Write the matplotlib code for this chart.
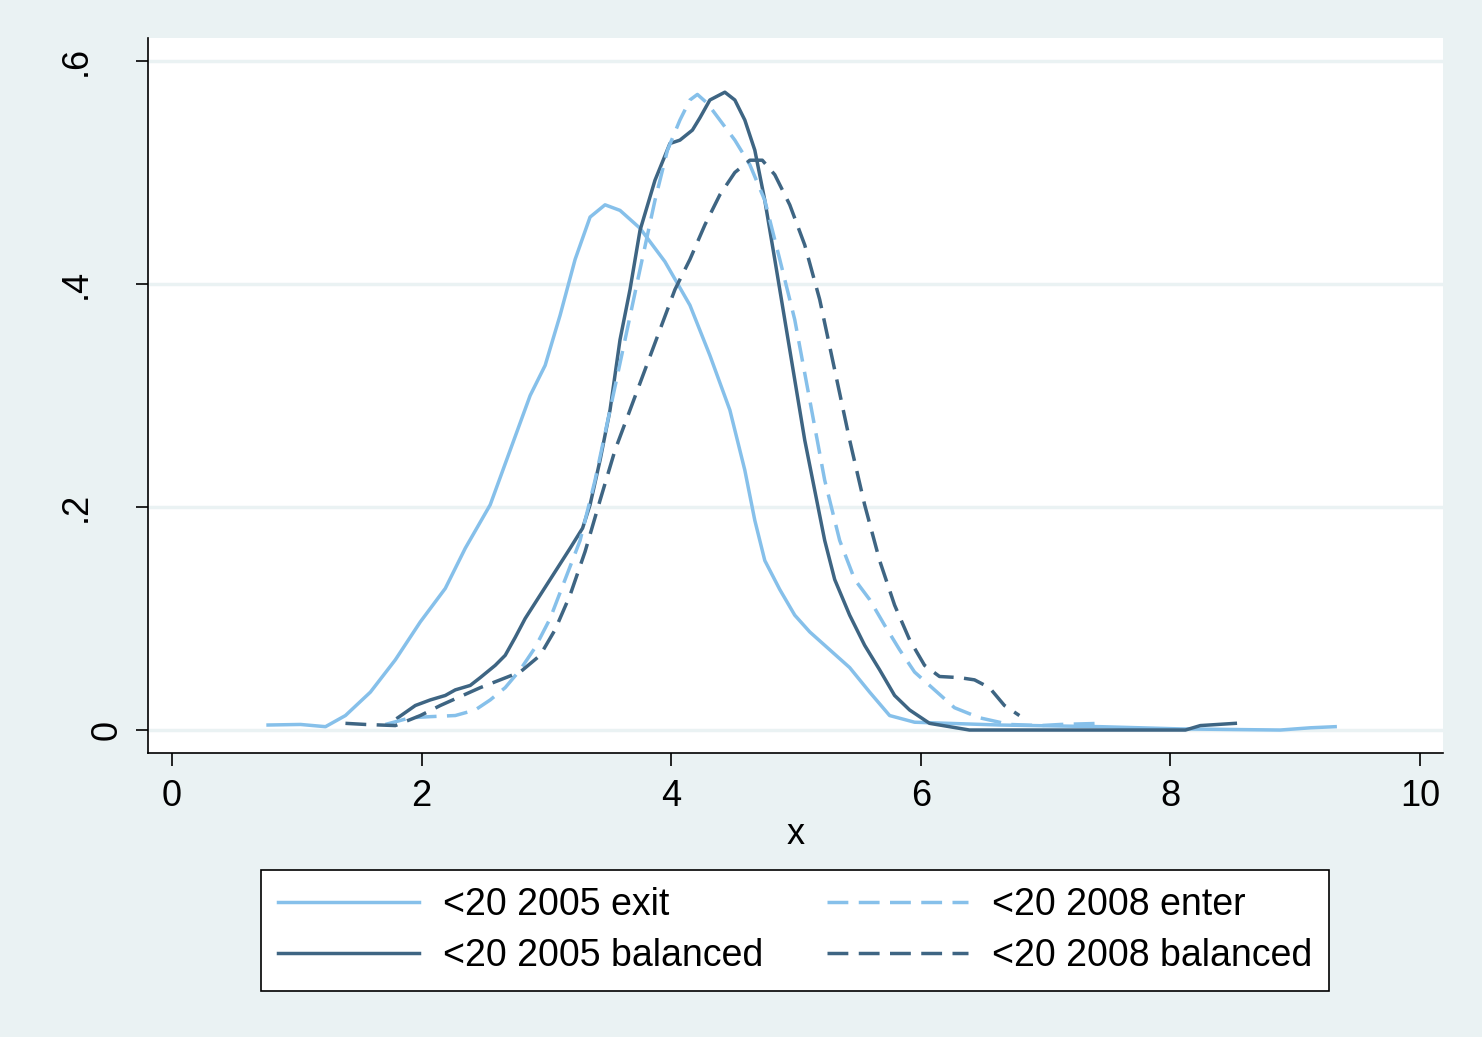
import matplotlib.pyplot as plt
import numpy as np

plt.rcParams['font.family'] = ['Liberation Sans', 'DejaVu Sans']

# density estimates
exit05_x = [0.77, 1.03, 1.23, 1.39, 1.59, 1.79, 1.99, 2.19, 2.35, 2.55, 2.71, 2.87, 2.99,
            3.11, 3.23, 3.35, 3.47, 3.59, 3.75, 3.95, 4.15, 4.31, 4.47, 4.59, 4.67, 4.75,
            4.87, 4.99, 5.11, 5.27, 5.43, 5.59, 5.75, 5.95, 6.63, 7.44, 8.08, 8.88, 9.12, 9.32]
exit05_y = [0.0045, 0.005, 0.003, 0.013, 0.034, 0.063, 0.097, 0.127, 0.163, 0.202, 0.251,
            0.300, 0.327, 0.372, 0.422, 0.460, 0.471, 0.466, 0.450, 0.420, 0.381, 0.336,
            0.287, 0.233, 0.188, 0.152, 0.126, 0.103, 0.088, 0.072, 0.056, 0.034, 0.013,
            0.007, 0.0045, 0.003, 0.001, 0.0, 0.002, 0.003]

bal05_x = [1.81, 1.95, 2.07, 2.19, 2.27, 2.39, 2.47, 2.59, 2.67, 2.75, 2.83, 2.95, 3.07,
           3.19, 3.29, 3.35, 3.43, 3.51, 3.59, 3.67, 3.75, 3.87, 3.99, 4.07, 4.17, 4.23,
           4.31, 4.43, 4.51, 4.59, 4.67, 4.75, 4.83, 4.91, 4.99, 5.07, 5.15, 5.23, 5.31,
           5.43, 5.55, 5.67, 5.79, 5.91, 6.07, 6.39, 8.12, 8.24, 8.52]
bal05_y = [0.011, 0.022, 0.027, 0.031, 0.036, 0.040, 0.047, 0.058, 0.067, 0.083, 0.100,
           0.121, 0.142, 0.163, 0.181, 0.202, 0.242, 0.287, 0.350, 0.395, 0.448, 0.493,
           0.526, 0.529, 0.538, 0.549, 0.565, 0.572, 0.565, 0.547, 0.520, 0.475, 0.422,
           0.368, 0.314, 0.260, 0.215, 0.170, 0.135, 0.103, 0.076, 0.054, 0.031, 0.018,
           0.006, 0.0, 0.0, 0.004, 0.006]

enter08_x = [1.71, 1.91, 2.07, 2.27, 2.43, 2.55, 2.67, 2.79, 2.91, 3.03, 3.15, 3.27, 3.39,
             3.51, 3.63, 3.75, 3.87, 3.97, 4.07, 4.15, 4.21, 4.29, 4.39, 4.51, 4.63, 4.75,
             4.87, 4.99, 5.11, 5.23, 5.35, 5.47, 5.59, 5.71, 5.83, 5.95, 6.11, 6.27, 6.47,
             6.71, 6.96, 7.12, 7.44]
enter08_y = [0.005, 0.011, 0.012, 0.013, 0.018, 0.027, 0.038, 0.054, 0.074, 0.100, 0.135,
             0.170, 0.224, 0.287, 0.350, 0.413, 0.475, 0.520, 0.547, 0.565, 0.570, 0.562,
             0.547, 0.529, 0.507, 0.475, 0.422, 0.368, 0.296, 0.224, 0.170, 0.135, 0.117,
             0.094, 0.072, 0.052, 0.036, 0.020, 0.011, 0.005, 0.004, 0.005, 0.006]

bal08_x = [1.39, 1.55, 1.79, 1.99, 2.15, 2.31, 2.47, 2.63, 2.79, 2.95, 3.07, 3.19, 3.31,
           3.43, 3.55, 3.67, 3.79, 3.91, 4.03, 4.15, 4.27, 4.39, 4.51, 4.63, 4.73, 4.83,
           4.95, 5.07, 5.19, 5.31, 5.43, 5.55, 5.67, 5.79, 5.91, 6.03, 6.15, 6.31, 6.43,
           6.55, 6.67, 6.79]
bal08_y = [0.006, 0.005, 0.004, 0.013, 0.022, 0.030, 0.038, 0.045, 0.052, 0.067, 0.090,
           0.121, 0.160, 0.206, 0.251, 0.287, 0.323, 0.359, 0.395, 0.422, 0.453, 0.480,
           0.500, 0.511, 0.511, 0.498, 0.471, 0.435, 0.386, 0.323, 0.260, 0.202, 0.152,
           0.112, 0.081, 0.058, 0.048, 0.047, 0.045, 0.038, 0.022, 0.013]

labels = ['<20 2005 exit', '<20 2005 balanced', '<20 2008 enter', '<20 2008 balanced']
x_ticks = [0, 2, 4, 6, 8, 10]
y_ticks = [0, 0.2, 0.4, 0.6]
y_ticklabels = ['0', '.2', '.4', '.6']

bg = '#EAF2F3'
light = '#86C0EA'
dark = '#3E6583'
fs = 26
lw = 2.5

fig = plt.figure(figsize=(14.82, 10.37), dpi=100, facecolor=bg)
ax = fig.add_axes([148 / 1482, 1 - 753 / 1037, (1443 - 148) / 1482, (753 - 38) / 1037])
ax.set_facecolor('white')

dash = (0, (6.0, 3.0))
h1, = ax.plot(exit05_x, exit05_y, color=light, lw=lw)
h2, = ax.plot(bal05_x, bal05_y, color=dark, lw=lw)
h3, = ax.plot(enter08_x, enter08_y, color=light, lw=lw, linestyle=dash)
h4, = ax.plot(bal08_x, bal08_y, color=dark, lw=lw, linestyle=dash)

ax.set_xlim(-0.192, 10.184)
ax.set_ylim(-0.0206, 0.6206)
ax.set_xticks(x_ticks)
ax.set_yticks(y_ticks)
ax.set_yticklabels([])
ax.tick_params(axis='both', direction='out', length=9, width=1.2, labelsize=fs, colors='black')
ax.tick_params(axis='x', pad=10)

# vertical y labels, placed the way Stata does (dotted labels sit further left)
ytrans = ax.get_yaxis_transform()
for v, lab in zip(y_ticks, y_ticklabels):
    right_px = 125 if lab == '0' else 94
    ax.text((right_px - 148) / 1295, v, lab, transform=ytrans, rotation=90,
            ha='right', va='center', fontsize=fs, clip_on=False)

ax.yaxis.grid(True, color=bg, lw=2.5)
ax.set_axisbelow(True)
for s in ['top', 'right']:
    ax.spines[s].set_visible(False)
for s in ['left', 'bottom']:
    ax.spines[s].set_linewidth(1.2)
ax.set_xlabel('x', fontsize=fs, labelpad=2)

leg = fig.legend([h1, h2, h3, h4], labels, ncol=2, loc='center',
                 bbox_to_anchor=(795 / 1482, 1 - 930.5 / 1037), fontsize=27,
                 frameon=True, fancybox=False, edgecolor='black', framealpha=1,
                 handlelength=3.75, handletextpad=0.64, columnspacing=1.7,
                 labelspacing=0.42, borderpad=0.45)
leg.get_frame().set_linewidth(1.2)

fig.savefig('out.png', dpi=100, facecolor=bg)
